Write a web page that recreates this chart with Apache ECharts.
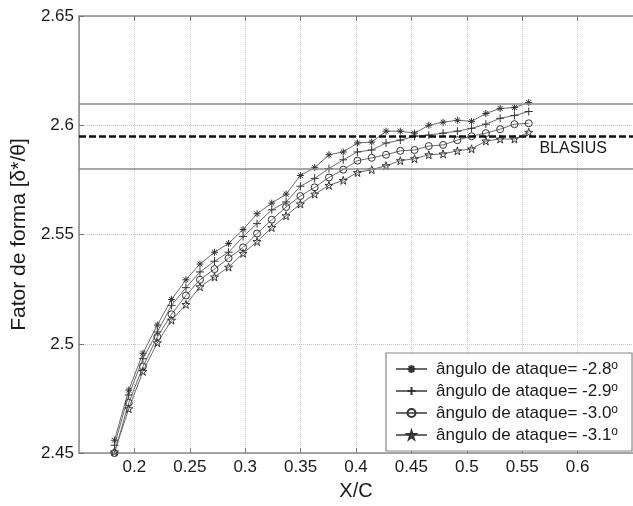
<!DOCTYPE html>
<html>
<head>
<meta charset="utf-8">
<script src="https://cdn.jsdelivr.net/npm/echarts@6/dist/echarts.min.js"></script>
<style>
html,body{margin:0;padding:0;background:#fff;}
#chart{width:633px;height:506px;}
</style>
</head>
<body>
<div id="chart"></div>
<script>
const xValues = [0.182, 0.1949, 0.2077, 0.2207, 0.2335, 0.2465, 0.2592, 0.2723, 0.285, 0.2981,
  0.3107, 0.324, 0.3369, 0.3498, 0.3627, 0.3756, 0.3885, 0.4013, 0.4142, 0.4271,
  0.44, 0.4528, 0.4657, 0.4786, 0.4915, 0.5043, 0.5172, 0.5301, 0.543, 0.5559];

const ang28 = [2.4559, 2.4788, 2.4957, 2.5086, 2.5203, 2.5293, 2.5365, 2.5419, 2.5459, 2.5523,
  2.5595, 2.5644, 2.5685, 2.5770, 2.5806, 2.5865, 2.5878, 2.5919, 2.5923, 2.5973,
  2.5973, 2.5964, 2.6000, 2.6014, 2.6023, 2.6018, 2.6054, 2.6077, 2.6081, 2.6104];
const ang29 = [2.4536, 2.4766, 2.4932, 2.5054, 2.5176, 2.5257, 2.5329, 2.5378, 2.5419, 2.5491,
  2.5550, 2.5613, 2.5649, 2.5721, 2.5757, 2.5802, 2.5842, 2.5878, 2.5887, 2.5919,
  2.5932, 2.5950, 2.5955, 2.5964, 2.5973, 2.5986, 2.6005, 2.6032, 2.6045, 2.6063];
const ang30 = [2.4500, 2.4730, 2.4896, 2.5032, 2.5135, 2.5221, 2.5293, 2.5342, 2.5392, 2.5441,
  2.5505, 2.5568, 2.5626, 2.5676, 2.5716, 2.5761, 2.5797, 2.5838, 2.5851, 2.5865,
  2.5883, 2.5887, 2.5905, 2.5910, 2.5932, 2.5950, 2.5964, 2.5982, 2.6005, 2.6009];
const ang31 = [2.4505, 2.4703, 2.4874, 2.5005, 2.5108, 2.5180, 2.5261, 2.5306, 2.5351, 2.5414,
  2.5468, 2.5532, 2.5586, 2.5640, 2.5685, 2.5725, 2.5748, 2.5784, 2.5797, 2.5815,
  2.5838, 2.5847, 2.5865, 2.5869, 2.5883, 2.5892, 2.5928, 2.5937, 2.5937, 2.5968];

const seriesNames = ['ângulo de ataque= -2.8', 'ângulo de ataque= -2.9', 'ângulo de ataque= -3.0', 'ângulo de ataque= -3.1'];
const upperLimit = 2.61;
const blasiusValue = 2.595;
const lowerLimit = 2.58;
const blasiusLabel = 'BLASIUS';
const xAxisName = 'X/C';
const yAxisName = 'Fator de forma [δ*/θ]';

const FONT = '"Liberation Sans", Arial, Helvetica, sans-serif';
const symAsterisk = 'path://M5,0L5,10M0,5L10,5M1.5,1.5L8.5,8.5M8.5,1.5L1.5,8.5';
const symPlus = 'path://M5,0L5,10M0,5L10,5';
const symStar = 'path://M5,0L6.12,3.46L9.76,3.45L6.81,5.59L7.94,9.05L5,6.9L2.06,9.05L3.19,5.59L0.24,3.45L3.88,3.46Z';

function pairs(ys){ return xValues.map((x,i)=>[x, ys[i]]); }

function mkSeries(name, ys, symbol, size){
  return {
    name: name, type: 'line', data: pairs(ys),
    symbol: symbol, symbolSize: size, showAllSymbol: true,
    lineStyle: {color: '#6a6a6a', width: 1},
    itemStyle: {color: 'rgba(255,255,255,0)', borderColor: '#333', borderWidth: 1},
    emphasis: {disabled: true},
    z: 3
  };
}

const chart = echarts.init(document.getElementById('chart'), null, {renderer: 'canvas'});
const axisLineStyle = {color: '#8a8a8a', width: 1.5};
chart.setOption({
  animation: false,
  backgroundColor: '#fff',
  textStyle: {fontFamily: FONT},
  grid: {left: 79, top: 16, right: -9, bottom: 46, containLabel: false},
  legend: {
    data: seriesNames,
    orient: 'vertical',
    left: 386, top: 353,
    padding: [7, 14, 7, 9],
    itemGap: 4,
    itemWidth: 31, itemHeight: 10,
    backgroundColor: '#fff',
    borderColor: '#888', borderWidth: 1.2,
    formatter: function(n){ return n + '{sup|o}'; },
    textStyle: {
      fontFamily: FONT, fontSize: 17, color: '#1a1a1a', lineHeight: 18, padding: [0,0,0,4],
      rich: { sup: {fontFamily: FONT, fontSize: 12, color: '#1a1a1a', verticalAlign: 'top', lineHeight: 18} }
    }
  },
  xAxis: [{
    type: 'value', min: 0.15, max: 0.65, interval: 0.05,
    name: xAxisName, nameLocation: 'middle', nameGap: 21,
    nameTextStyle: {fontFamily: FONT, fontSize: 20, color: '#1a1a1a'},
    axisLine: {show: true, lineStyle: axisLineStyle},
    axisTick: {show: true, inside: true, length: 5, lineStyle: {color: '#777'}},
    axisLabel: {fontFamily: FONT, fontSize: 17, color: '#1a1a1a', margin: 6, showMinLabel: false, showMaxLabel: false},
    splitLine: {show: true, lineStyle: {color: '#c8c8c8', type: 'dotted', width: 1}}
  }, {
    type: 'value', position: 'top', min: 0.15, max: 0.65, interval: 0.05,
    axisLine: {show: true, lineStyle: axisLineStyle},
    axisTick: {show: true, inside: true, length: 5, lineStyle: {color: '#777'}},
    axisLabel: {show: false}, splitLine: {show: false}
  }],
  yAxis: [{
    type: 'value', min: 2.45, max: 2.65, interval: 0.05,
    name: yAxisName, nameLocation: 'middle', nameGap: 44, nameRotate: 90,
    nameTextStyle: {fontFamily: FONT, fontSize: 21, color: '#1a1a1a'},
    axisLine: {show: true, lineStyle: axisLineStyle},
    axisTick: {show: true, inside: true, length: 5, lineStyle: {color: '#777'}},
    axisLabel: {fontFamily: FONT, fontSize: 17, color: '#1a1a1a', margin: 5},
    splitLine: {show: true, lineStyle: {color: '#c8c8c8', type: 'dotted', width: 1}}
  }],
  series: [
    {
      name: 'ref', type: 'line', data: [], silent: true, z: 2,
      markLine: {
        silent: true, symbol: 'none', animation: false, precision: 4,
        data: [
          {yAxis: upperLimit, lineStyle: {color: '#8a8a8a', width: 1.5, type: 'solid'}, label: {show: false}},
          {yAxis: blasiusValue, lineStyle: {color: '#111', width: 2.6, type: [7, 3]},
            label: {show: true, formatter: blasiusLabel, position: 'insideEndBottom', distance: [26, 4],
              fontFamily: FONT, fontSize: 16, color: '#1a1a1a'}},
          {yAxis: lowerLimit, lineStyle: {color: '#8a8a8a', width: 1.5, type: 'solid'}, label: {show: false}}
        ]
      }
    },
    mkSeries(seriesNames[0], ang28, symAsterisk, 7),
    mkSeries(seriesNames[1], ang29, symPlus, 8),
    mkSeries(seriesNames[2], ang30, 'circle', 7),
    mkSeries(seriesNames[3], ang31, symStar, 8)
  ]
});
</script>
</body>
</html>
